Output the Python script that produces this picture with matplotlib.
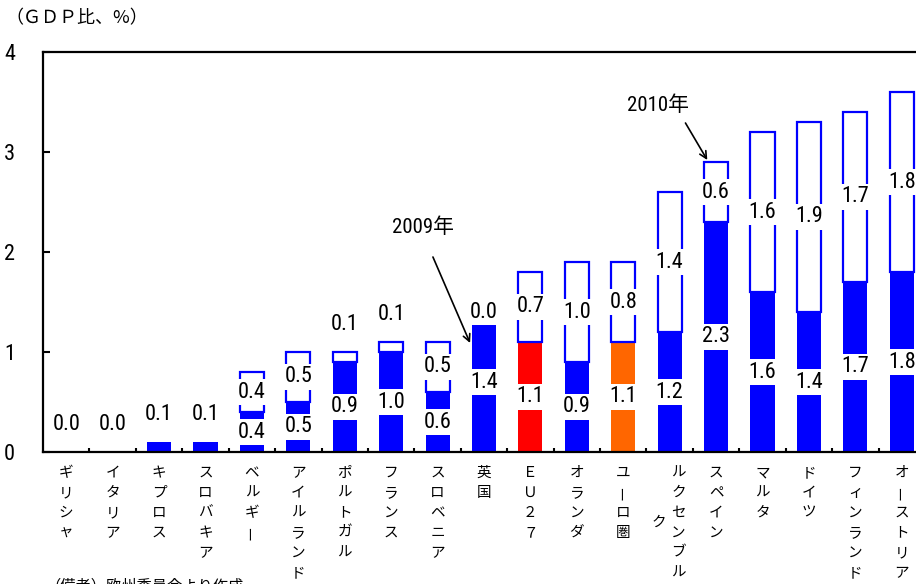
import matplotlib
matplotlib.use("Agg")
import matplotlib.pyplot as plt
from matplotlib import font_manager as fm
import numpy as np

plt.rcParams["font.family"] = ["Noto Sans CJK JP", "DejaVu Sans"]


def find_narrow():
    """Pick an installed narrow/condensed sans for the numbers."""
    prefer = ["Liberation Sans Narrow", "Roboto Condensed", "Open Sans Condensed",
              "DejaVu Sans", "Noto Sans", "Open Sans", "Roboto", "Lato", "Inter"]
    found = []
    for e in fm.fontManager.ttflist:
        if e.style != "normal" or e.weight not in (400, "normal", "regular"):
            continue
        st = str(e.stretch)
        if "Narrow" in e.name or "Condensed" in e.name or st in (
                "condensed", "semi-condensed", "extra-condensed"):
            found.append((e.name, st))
    for p in prefer:
        for name, st in found:
            if name == p:
                return name, st
    if found:
        return found[0]
    return "Noto Sans CJK JP", "normal"


NARROW, STRETCH = find_narrow()
NUM_FONT = [NARROW, "Noto Sans CJK JP", "DejaVu Sans"]

countries = ["ギリシャ", "イタリア", "キプロス", "スロバキア", "ベルギー", "アイルランド",
             "ポルトガル", "フランス", "スロベニア", "英国", "ＥＵ２７", "オランダ",
             "ユーロ圏", "ルクセンブルク", "スペイン", "マルタ", "ドイツ",
             "フィンランド", "オーストリア"]
# 2009年の値と、2010年に上乗せされる分（GDP比、%）
y2009 = [0.0, 0.0, 0.1, 0.1, 0.4, 0.5, 0.9, 1.0, 0.6, 1.4,
         1.1, 0.9, 1.1, 1.2, 2.3, 1.6, 1.4, 1.7, 1.8]
y2010 = [0.0, 0.0, 0.0, 0.0, 0.4, 0.5, 0.1, 0.1, 0.5, 0.0,
         0.7, 1.0, 0.8, 1.4, 0.6, 1.6, 1.9, 1.7, 1.8]
fill_colors = {"ＥＵ２７": "#FF0000", "ユーロ圏": "#FF6600"}

BLUE = "#0000FF"
W, H = 916, 584

fig = plt.figure(figsize=(W / 100, H / 100), dpi=100)
ax = fig.add_axes([43 / W, (H - 452) / H, 882 / W, 400 / H])

x = np.arange(len(countries))
y09 = np.array(y2009)
y10 = np.array(y2010)
colors = [fill_colors.get(c, BLUE) for c in countries]
bw = 0.52

ax.bar(x, y09, width=bw, color=colors, edgecolor="none", zorder=2)
has10 = y10 > 0
ax.bar(x[has10], y10[has10], bottom=y09[has10], width=bw, facecolor="white",
       edgecolor=BLUE, linewidth=1.6, zorder=3)


def value_label(xp, yp, v):
    ax.text(xp, yp, f"{v:.1f}", ha="center", va="center", fontsize=16,
            family=NUM_FONT, stretch=STRETCH, zorder=5,
            bbox=dict(boxstyle="square,pad=0.1", fc="white", ec="none"))


for i in x:
    a, b = y09[i], y10[i]
    if b == 0 and a <= 0.1:
        value_label(i, a + 0.27, a)
        continue
    value_label(i, a / 2, a)
    if 0 < b < 0.2:
        value_label(i, a + b + 0.27, b)
    else:
        value_label(i, a + b / 2, b)

ax.set_xlim(-0.5, len(countries) - 0.5)
ax.set_ylim(0, 4)
ax.set_yticks([0, 1, 2, 3, 4])
ax.set_xticks(np.arange(0.5, len(countries) - 0.5, 1))
ax.set_xticklabels([])
ax.tick_params(axis="x", direction="in", length=3, width=1.5)
ax.tick_params(axis="y", direction="in", length=5, width=1.5, pad=20,
               labelsize=16)
for lbl in ax.get_yticklabels():
    lbl.set_family(NUM_FONT)
    lbl.set_stretch(STRETCH)
for s in ax.spines.values():
    s.set_linewidth(1.6)

# 縦書きのカテゴリラベル（6文字で折り返し）
row_px = 20
for i, name in enumerate(countries):
    cols = [name[:6], name[6:]] if len(name) > 6 else [name]
    for ci, col in enumerate(cols):
        dx = 0 if len(cols) == 1 else (9 if ci == 0 else -11)
        start = 0 if ci == 0 else (len(cols[0]) - 1) / 2
        for r, ch in enumerate(col):
            dy = -(21 + (start + r) * row_px)
            ax.annotate(ch, xy=(i, 0), xycoords=("data", "axes fraction"),
                        xytext=(dx * 0.72, dy * 0.72), textcoords="offset points",
                        ha="center", va="center", fontsize=10.5,
                        rotation=90 if ch == "ー" else 0, annotation_clip=False)

# 年の注記
ann_font = [NARROW, "Noto Sans CJK JP"]
ax.text(7.69, 2.25, "2009年", ha="center", va="center", fontsize=15,
        family=ann_font, stretch=STRETCH)
ax.annotate("", xy=(8.70, 1.09), xytext=(7.90, 1.95),
            arrowprops=dict(arrowstyle="->,head_length=0.5,head_width=0.25",
                            lw=1.2, color="black", shrinkA=0, shrinkB=0))
ax.text(12.75, 3.47, "2010年", ha="center", va="center", fontsize=15,
        family=ann_font, stretch=STRETCH)
ax.annotate("", xy=(13.81, 2.92), xytext=(13.34, 3.29),
            arrowprops=dict(arrowstyle="->,head_length=0.5,head_width=0.25",
                            lw=1.2, color="black", shrinkA=0, shrinkB=0))

fig.text(5 / W, 1 - 18 / H, "（ＧＤＰ比、%）", ha="left", va="center", fontsize=13)
fig.text(45 / W, -2 / H, "（備考）欧州委員会より作成", ha="left", va="center",
         fontsize=11)

fig.savefig("out.png", dpi=100)
